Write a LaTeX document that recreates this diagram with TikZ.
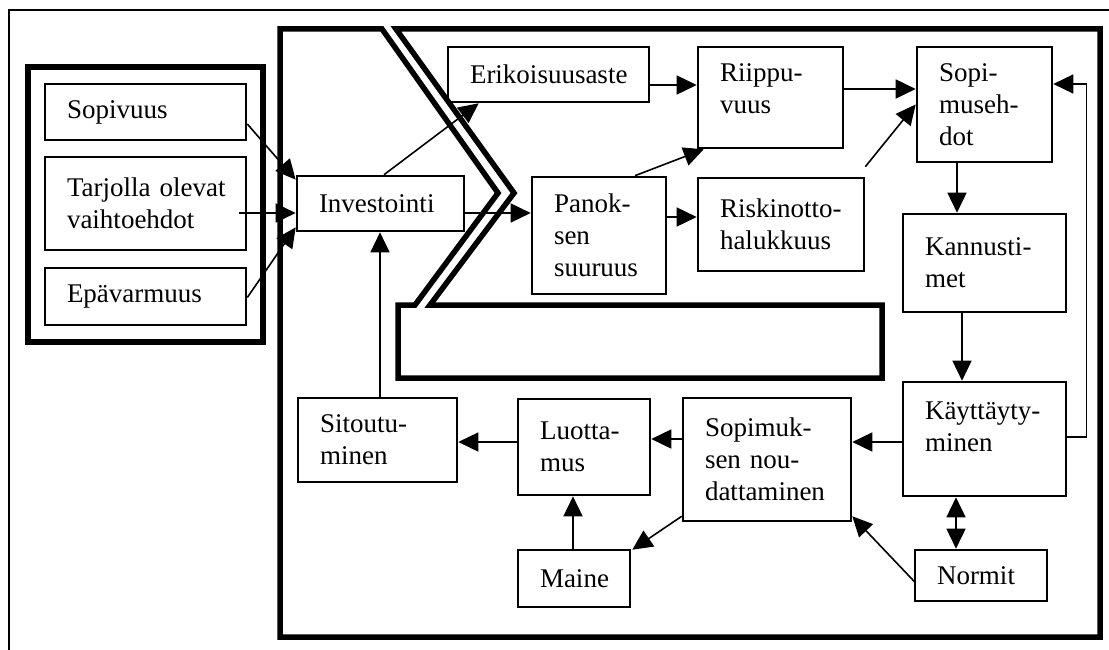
\documentclass[tikz,border=0pt]{standalone}
\usepackage{fontspec}
\setmainfont{Liberation Serif}
\usetikzlibrary{arrows.meta,calc}
\hyphenpenalty=10000
\exhyphenpenalty=10000
\newcommand\mybx[7][]{%
 \pgfmathsetmacro\bxw{#5-#3}%
 \pgfmathsetmacro\bxh{#6-#4}%
 \pgfmathsetmacro\bxtw{#5-#3-44}%
 \pgfmathsetmacro\bxcx{(#3+#5)/2}%
 \pgfmathsetmacro\bxcy{(#4+#6)/2}%
 \node[box,minimum width=\bxw pt,minimum height=\bxh pt,text width=\bxtw pt,#1] (#2) at (\bxcx,\bxcy) {#7};}
\begin{document}
\begin{tikzpicture}[x=1pt,y=-1pt,
 box/.style={draw, line width=2.6pt, inner xsep=22pt, inner ysep=0pt, align=left,
   font=\fontsize{27pt}{32pt}\selectfont},
 arr/.style={line width=1.6pt, -{Triangle[length=20pt,width=19pt]}},
 arrtwo/.style={line width=1.6pt, {Triangle[length=20pt,width=19pt]}-{Triangle[length=20pt,width=19pt]}},
 heavy/.style={line width=5.5pt},
 thinframe/.style={line width=2pt}]
\useasboundingbox (0,0) rectangle (1109,650);
% frames
\draw[thinframe] (9,650) -- (9,10) -- (1109,10);
\draw[heavy] (28,67) rectangle (263,342);
\draw[heavy] (382,29) -- (498,193) -- (415,305) -- (398,305) -- (398,378) -- (882,378)
  -- (882,305) -- (430,305) -- (514,193) -- (396,29) -- (1100,29) -- (1100,637)
  -- (280,637) -- (280,29) -- cycle;
% boxes
\mybx{sop}{45}{84}{246}{140}{Sopivuus}
\mybx{tar}{45}{157}{246}{250}{Tarjolla~olevat\\vaihtoehdot}
\mybx{epa}{45}{268}{246}{325}{Epävarmuus}
\mybx{inv}{297}{176}{464}{231}{Investointi}
\mybx{eri}{448}{47}{649}{102}{Erikoisuusaste}
\mybx[text depth=50pt]{rii}{698}{47}{843}{148}{Riippu-\\vuus}
\mybx{pan}{532}{177}{666}{294}{Panok-\\sen\\suuruus}
\mybx{ris}{698}{178}{864}{271}{Riskinotto-\\halukkuus}
\mybx{sme}{917}{47}{1052}{162}{Sopi-\\museh-\\dot}
\mybx{kan}{903}{214}{1066}{312}{Kannusti-\\met}
\mybx[text depth=56pt]{kay}{903}{382}{1066}{496}{Käyttäyty-\\minen}
\mybx{snd}{683}{398}{851}{521}{Sopimuk-\\sen~nou-\\dattaminen}
\mybx{luo}{518}{399}{650}{495}{Luotta-\\mus}
\mybx{sit}{298}{398}{457}{482}{Sitoutu-\\minen}
\mybx{mai}{518}{550}{630}{607}{Maine}
\mybx{nor}{915}{550}{1047}{601}{Normit}
% connectors
\draw[arr] ($(sop.east)+(0,12)$) -- ($(inv.north west)+(0,5)$);
\draw[arr] ($(tar.east)+(-8,9.5)$) -- ($(inv.west)+(0,9.5)$);
\draw[arr] ($(epa.east)+(0,1)$) -- ($(inv.south west)+(0,-5)$);
\draw[arr] ($(inv.north)+(3.5,0)$) -- ($(eri.south west)+(32,0)$);
\draw[arr] ($(inv.east)+(0,9.5)$) -- ($(pan.west)+(0,-22.5)$);
\draw[arr] ($(eri.east)+(0,10.5)$) -- ($(rii.west)+(0,-12.5)$);
\draw[arr] ($(rii.east)+(0,-8.5)$) -- ($(sme.west)+(0,-15.5)$);
\draw[arr] ($(pan.north)+(36,0)$) -- ($(rii.south west)+(7,0)$);
\draw[arr] ($(pan.east)+(0,-18.5)$) -- ($(ris.west)+(0,-7.5)$);
\draw[arr] ($(ris.north east)+(0,-10)$) -- (sme.west);
\draw[arr] ($(sme.south)+(-27.5,0)$) -- ($(kan.north)+(-27.5,0)$);
\draw[arr] ($(kan.south)+(-22.5,0)$) -- ($(kay.north)+(-22.5,0)$);
\draw[arr] ($(kay.east)+(0,-2)$) -| ($(sme.east)+(33,-20.5)$) -- ($(sme.east)+(0,-20.5)$);
\draw[arr] ($(kay.west)+(0,3)$) -- ($(snd.east)+(0,-17.5)$);
\draw[arr] ($(snd.west)+(0,-20.5)$) -- ($(luo.east)+(0,-8)$);
\draw[arr] ($(luo.west)+(0,-5)$) -- ($(sit.east)+(0,2)$);
\draw[arr] ($(sit.north)+(2.5,0)$) -- ($(inv.south)+(-0.5,0)$);
\draw[arr] ($(mai.north)+(-1,0)$) -- ($(luo.south)+(-11,0)$);
\draw[arr] ($(snd.south west)+(0,-6)$) -- ($(mai.north east)+(1,1)$);
\draw[arr] ($(nor.west)+(2,7.5)$) -- ($(snd.south east)+(0,-6)$);
\draw[arrtwo] ($(kay.south)+(-28.5,0)$) -- ($(nor.north)+(-25,0)$);
\end{tikzpicture}
\end{document}
